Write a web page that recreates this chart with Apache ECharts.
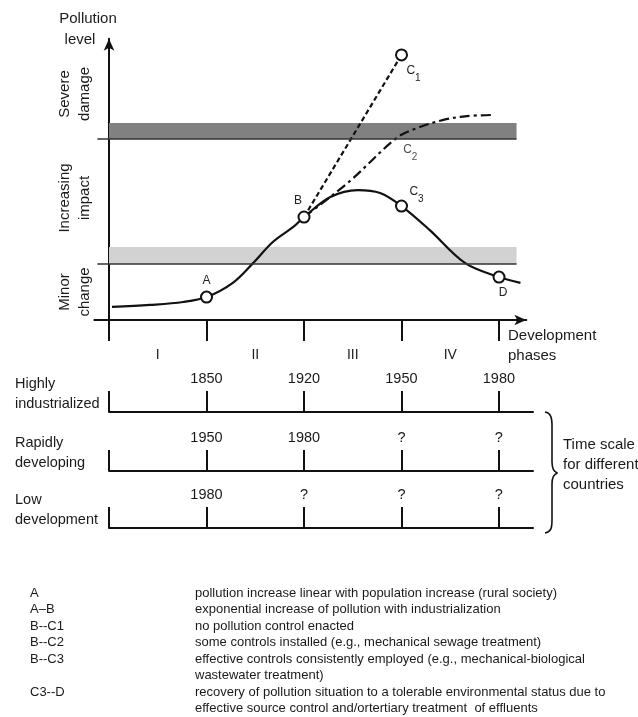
<!DOCTYPE html>
<html><head><meta charset="utf-8">
<script src="https://cdn.jsdelivr.net/npm/echarts@6/dist/echarts.min.js"></script>
<style>html,body{margin:0;padding:0;background:#fff}#c{width:638px;height:717px}</style>
</head><body><div id="c"></div>
<script>
// ---- data ----
const phaseTicks = [0, 1, 2, 3, 4];
const phaseLabelPos = [0.5, 1.5, 2.5, 3.5];
const phaseLabels = ['I', 'II', 'III', 'IV'];
const curveAD = [[0.03,4.5],[0.42,5.2],[0.76,6.2],[1.0,7.9],[1.27,12.8],[1.48,19.7],[1.68,26.9],[1.89,32.1],[2.0,35.5],[2.27,42.4],[2.55,44.8],[2.78,43.8],[3.0,39.3],[3.29,31.0],[3.65,19.7],[4.0,14.8],[4.22,12.8]];
const curveBC1 = [[2.0,35.5],[3.0,91.4]];
const curveBC2 = [[2.0,35.5],[2.47,47.9],[2.95,62.8],[3.16,66.2],[3.43,69.0],[3.67,70.3],[3.93,70.7]];
const pointNames = ['A', 'B', 'C1', 'C3', 'D'];
const pointValues = [[1.0,7.9],[2.0,35.5],[3.0,91.4],[3.0,39.3],[4.0,14.8]];
const c2LabelPos = [3.09, 57.6];
const bandSevere = [62.4, 67.9];
const bandMinor = [19.3, 25.2];
const bandExtent = [0, 4.18];
const thresholdExtent = [-0.12, 4.18];
const zoneLabels = ['Severe\ndamage', 'Increasing\nimpact', 'Minor\nchange'];
const countryLabels = ['Highly\nindustrialized', 'Rapidly\ndeveloping', 'Low\ndevelopment'];
const timeTicks = [0, 1, 2, 3, 4];
const timeLabelPos = [1, 2, 3, 4];
const yearLabels = [
  ['1850', '1920', '1950', '1980'],
  ['1950', '1980', '?', '?'],
  ['1980', '?', '?', '?']
];
const legendKeys = ['A', 'A\u2013B', 'B--C1', 'B--C2', 'B--C3', '', 'C3--D', ''];
const legendTexts = [
  'pollution increase linear with population increase (rural society)',
  'exponential increase of pollution with industrialization',
  'no pollution control enacted',
  'some controls installed (e.g., mechanical sewage treatment)',
  'effective controls consistently employed (e.g., mechanical-biological',
  'wastewater treatment)',
  'recovery of pollution situation to a tolerable environmental status due to',
  'effective source control and/ortertiary treatment  of effluents'
];

// ---- layout / style ----
const FONT = 'Liberation Sans, Arial, Helvetica, sans-serif';
const INK = '#111';
const TXT = '#1a1a1a';
const pointLabelOffsets = {A:[0,-15], B:[-6,-15], C1:[12,19], C3:[15,-11], D:[4,17]};

const chart = echarts.init(document.getElementById('c'), null, {renderer: 'canvas'});

const grids = [{left: 94.4, top: 38.7, width: 431.9, height: 298.7}];
const xAxes = [{
  gridIndex: 0, type: 'value', min: -0.15, max: 4.28,
  axisLine: {onZero: true, symbol: ['none', 'arrow'], symbolSize: [8, 12], lineStyle: {color: INK, width: 2}},
  axisTick: {show: true, customValues: phaseTicks, length: 21, inside: false, lineStyle: {color: INK, width: 2}},
  axisLabel: {show: true, customValues: phaseLabelPos, margin: 11, fontSize: 14, fontFamily: FONT, color: TXT,
    formatter: v => phaseLabels[phaseLabelPos.indexOf(v)] || ''},
  splitLine: {show: false}
}];
const yAxes = [{
  gridIndex: 0, type: 'value', min: -6, max: 97,
  axisLine: {show: true, onZero: true, symbol: ['none', 'arrow'], symbolSize: [8, 12], lineStyle: {color: INK, width: 2}},
  axisTick: {show: false}, axisLabel: {show: false}, splitLine: {show: false}
}];
const baselines = [412, 471, 528];
const series = [];

baselines.forEach((b, i) => {
  grids.push({left: 109, top: b - 40, width: 424, height: 40});
  xAxes.push({
    gridIndex: i + 1, type: 'value', min: 0, max: 4.35,
    axisLine: {onZero: false, lineStyle: {color: INK, width: 2}},
    axisTick: {show: true, customValues: timeTicks, inside: true, length: 21, lineStyle: {color: INK, width: 2}},
    axisLabel: {show: true, customValues: timeLabelPos, inside: true, margin: 26, fontSize: 14.5, fontFamily: FONT, color: TXT,
      formatter: v => yearLabels[i][timeLabelPos.indexOf(v)] || ''},
    splitLine: {show: false}
  });
  yAxes.push({gridIndex: i + 1, type: 'value', min: 0, max: 1, show: false});
  series.push({type: 'line', xAxisIndex: i + 1, yAxisIndex: i + 1, data: [], silent: true});
});

series.push({
  type: 'line', xAxisIndex: 0, yAxisIndex: 0, data: curveAD, smooth: 0.35, symbol: 'none',
  lineStyle: {color: INK, width: 2.2}, z: 3, silent: true,
  markArea: {silent: true, data: [
    [{coord: [bandExtent[0], bandSevere[0]], itemStyle: {color: '#818181'}}, {coord: [bandExtent[1], bandSevere[1]]}],
    [{coord: [bandExtent[0], bandMinor[0]], itemStyle: {color: '#d2d2d2'}}, {coord: [bandExtent[1], bandMinor[1]]}]
  ]},
  markLine: {silent: true, symbol: 'none', label: {show: false}, lineStyle: {color: '#333', width: 1.5, type: 'solid'},
    data: [
      [{coord: [thresholdExtent[0], bandSevere[0]]}, {coord: [thresholdExtent[1], bandSevere[0]]}],
      [{coord: [thresholdExtent[0], bandMinor[0]]}, {coord: [thresholdExtent[1], bandMinor[0]]}]
    ]}
});
series.push({
  type: 'line', data: curveBC1, symbol: 'none', silent: true, z: 3,
  lineStyle: {color: INK, width: 2.2, type: [5, 3]}
});
series.push({
  type: 'line', data: curveBC2, smooth: 0.35, symbol: 'none', silent: true, z: 3,
  lineStyle: {color: INK, width: 2.2, type: [10, 4, 3, 4]}
});
const richLbl = {m: {fontSize: 12, fontFamily: FONT, color: '#222', lineHeight: 14, verticalAlign: 'top'},
                 s: {fontSize: 10, fontFamily: FONT, color: '#222', lineHeight: 19, verticalAlign: 'bottom'}};
function lblFmt(name) {
  const m = name.match(/^([A-Z])(\d?)$/);
  return m[2] ? '{m|' + m[1] + '}{s|' + m[2] + '}' : '{m|' + m[1] + '}';
}
series.push({
  type: 'scatter', symbol: 'circle', symbolSize: 11, z: 5, silent: true,
  itemStyle: {color: '#fff', borderColor: INK, borderWidth: 2, opacity: 1},
  data: pointNames.map((n, k) => ({
    name: n, value: pointValues[k],
    label: {show: true, position: 'inside', offset: pointLabelOffsets[n], formatter: lblFmt(n), rich: richLbl}
  }))
});
series.push({
  type: 'scatter', symbol: 'circle', symbolSize: 1, z: 5, silent: true,
  itemStyle: {color: 'rgba(0,0,0,0)', borderWidth: 0},
  data: [{name: 'C2', value: c2LabelPos,
    label: {show: true, position: 'inside', formatter: lblFmt('C2'), rich: richLbl}}]
});

const graphic = [];
function txt(text, x, y, opts) {
  graphic.push(Object.assign({type: 'text', x: x, y: y, silent: true,
    style: Object.assign({text: text, fill: TXT, font: (opts && opts.font) || ('15px ' + FONT),
      textAlign: 'center', textVerticalAlign: 'middle', lineHeight: 20}, (opts && opts.style) || {})},
    (opts && opts.el) || {}));
}
txt('Pollution', 88, 19);
txt('level', 80, 40);
const zoneY = [94, 198, 292];
zoneLabels.forEach((z, i) => txt(z, 75, zoneY[i], {el: {rotation: Math.PI / 2}}));
txt('Development', 508, 336, {style: {textAlign: 'left'}});
txt('phases', 508, 356, {style: {textAlign: 'left'}});
const countryY = [394, 453, 510];
countryLabels.forEach((c, i) => txt(c, 15, countryY[i], {font: '14.5px ' + FONT, style: {textAlign: 'left'}}));
// brace
const braceStyle = {fill: 'none', stroke: INK, lineWidth: 1.6};
[
  {x1: 545, y1: 412, cpx1: 551, cpy1: 413, cpx2: 552, cpy2: 418, x2: 552, y2: 426},
  {x1: 552, y1: 462, cpx1: 552, cpy1: 469, cpx2: 554, cpy2: 472, x2: 557.5, y2: 473},
  {x1: 557.5, y1: 473, cpx1: 554, cpy1: 474, cpx2: 552, cpy2: 477, x2: 552, y2: 484},
  {x1: 552, y1: 520, cpx1: 552, cpy1: 528, cpx2: 551, cpy2: 532, x2: 545, y2: 533}
].forEach(s => graphic.push({type: 'bezierCurve', silent: true, shape: s, style: braceStyle}));
[[426, 462], [484, 520]].forEach(p => graphic.push({type: 'line', silent: true,
  shape: {x1: 552, y1: p[0], x2: 552, y2: p[1]}, style: braceStyle}));
txt('Time scale\nfor different\ncountries', 563, 465, {style: {textAlign: 'left'}});
legendKeys.forEach((k, i) => {
  const y = 593 + i * 16.5;
  if (k) txt(k, 30, y, {font: '13px ' + FONT, style: {textAlign: 'left'}});
  txt(legendTexts[i], 195, y, {font: '13px ' + FONT, style: {textAlign: 'left'}});
});

chart.setOption({
  animation: false,
  backgroundColor: '#fff',
  grid: grids, xAxis: xAxes, yAxis: yAxes, series: series, graphic: graphic
});
</script></body></html>
